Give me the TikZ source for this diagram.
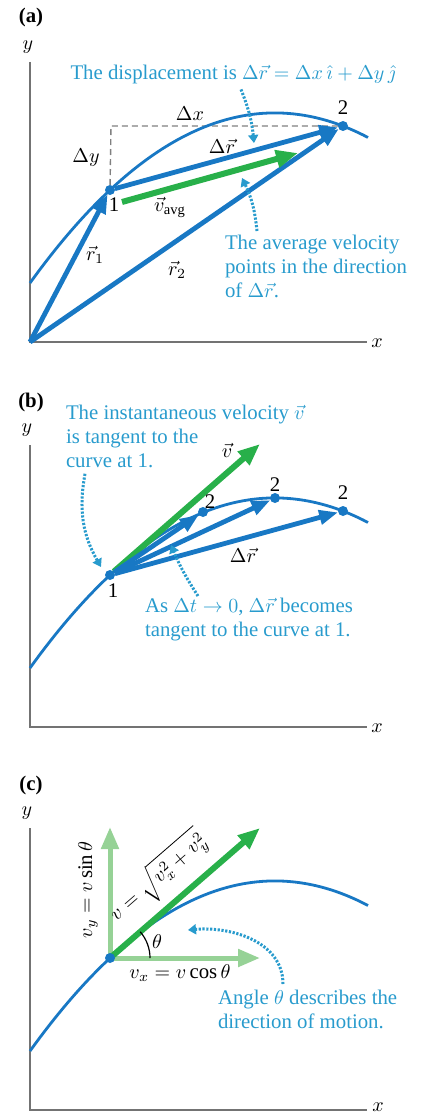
\documentclass[tikz,border=0pt]{standalone}
\usepackage{fontspec}
\setmainfont{Liberation Serif}
\usetikzlibrary{arrows.meta}
\definecolor{trajblue}{RGB}{24,120,196}
\definecolor{notecyan}{RGB}{40,155,205}
\definecolor{velgreen}{RGB}{40,176,74}
\definecolor{compgreen}{RGB}{150,210,150}
\definecolor{axisgray}{RGB}{115,115,115}
\begin{document}
\begin{tikzpicture}[x=0.5pt, y=0.5pt, inner sep=0pt, outer sep=0pt,
		every node/.append style={font=\fontsize{10.4}{12}\selectfont},
		axisline/.style={draw=axisgray, line width=0.8pt},
		traj/.style={draw=trajblue, line width=1.4pt},
		trajdot/.style={circle, fill=trajblue, minimum size=5pt},
		vecblue/.style={draw=trajblue, line width=2.4pt, -{Triangle[length=9.5pt, width=7pt]}},
		vecgreen/.style={draw=velgreen, line width=3pt, -{Triangle[length=11pt, width=8.5pt]}},
		compvec/.style={draw=compgreen, line width=2.5pt, -{Triangle[length=11pt, width=8.5pt]}},
		notetext/.style={text=notecyan, align=left},
		pointer/.style={draw=notecyan, line width=1.5pt, dash pattern=on 1.1pt off 0.8pt, -{Triangle[length=4pt, width=5pt]}},
		dashline/.style={draw=gray, line width=0.7pt, dash pattern=on 3pt off 2pt}]
			\useasboundingbox (0,0) rectangle (423,-1113);
			% (a) average velocity
			\node (labA) at (31,-18) {\bfseries (a)};
			\node (yA) at (28,-47) {$y$};
			\node (xA) at (377,-343) {$x$};
			\coordinate (oA) at (30,-342);
			\coordinate (yTopA) at (30,-62);
			\coordinate (xEndA) at (367,-342);
			\path[axisline] (yTopA) -- (oA) -- (xEndA);
			\node[trajdot] (p1A) at (110,-190) {};
			\node[trajdot] (p2A) at (343,-126) {};
			\coordinate (cornerA) at (111,-126);
			\path[dashline] (p1A) -- (cornerA) -- (p2A);
			\path[traj] (30,-283) .. controls (142.7,-126.5) and (255.3,-78) .. (368,-137.5);
			\path[vecblue] (oA) -- (p1A);
			\path[vecblue] (oA) -- (p2A);
			\path[vecblue] (p1A) -- (p2A);
			\coordinate (vavgA0) at (122,-202);
			\coordinate (vavgA1) at (298,-153);
			\path[vecgreen] (vavgA0) -- (vavgA1);
			\node (oneA) at (114,-205) {1};
			\node (twoA) at (343,-108) {2};
			\node (dxA) at (190,-114) {$\Delta x$};
			\node (dyA) at (86,-158) {$\Delta y$};
			\node (drA) at (222,-146) {$\Delta\vec{r}$};
			\node (vavgA) at (170,-207) {$\vec{v}_{\mathrm{avg}}$};
			\node (r1A) at (95,-255) {$\vec{r}_1$};
			\node (r2A) at (177,-270) {$\vec{r}_2$};
			\node[notetext] (dispA) at (233,-74) {The displacement is $\Delta\vec{r} = \Delta x\,\hat{\imath} + \Delta y\,\hat{\jmath}$};
			\node[notetext, anchor=north west] (avgA) at (225,-235) {The average velocity\\points in the direction\\of $\Delta\vec{r}$.};
			\coordinate (ptrA1) at (254,-143);
			\coordinate (ptrA2) at (242,-178);
			\path[pointer] ([xshift=4pt, yshift=-3pt]dispA.south) to[bend left=8] (ptrA1);
			\path[pointer] ([xshift=16pt, yshift=2pt]avgA.north west) to[bend right=10] (ptrA2);
			% (b) instantaneous velocity
			\node (labB) at (31,-402) {\bfseries (b)};
			\node (yB) at (27,-430) {$y$};
			\node (xB) at (377,-728) {$x$};
			\coordinate (oB) at (30,-727);
			\coordinate (yTopB) at (30,-445);
			\coordinate (xEndB) at (367,-727);
			\path[axisline] (yTopB) -- (oB) -- (xEndB);
			\node[trajdot] (p1B) at (110,-575) {};
			\node[trajdot] (p2aB) at (203,-512) {};
			\node[trajdot] (p2bB) at (275,-498) {};
			\node[trajdot] (p2cB) at (343,-511) {};
			\path[traj] (30,-668) .. controls (142.7,-511.5) and (255.3,-463) .. (368,-522.5);
			\coordinate (vtipB) at (260,-444);
			\path[vecgreen] (p1B) -- (vtipB);
			\path[vecblue] (p1B) -- (p2aB);
			\path[vecblue] (p1B) -- (p2bB);
			\path[vecblue] (p1B) -- (p2cB);
			\node (oneB) at (113,-591) {1};
			\node (twoaB) at (210,-502) {2};
			\node (twobB) at (275,-485) {2};
			\node (twocB) at (343,-493) {2};
			\node (vB) at (227,-450) {$\vec{v}$};
			\node (drB) at (243,-555) {$\Delta\vec{r}$};
			\node[notetext, anchor=north west] (instB) at (66,-405) {The instantaneous velocity $\vec{v}$\\is tangent to the\\curve at 1.};
			\node[notetext, anchor=north west] (asB) at (145,-598) {As $\Delta t \rightarrow 0$, $\Delta\vec{r}$ becomes\\tangent to the curve at 1.};
			\coordinate (ptrB1) at (101,-567);
			\coordinate (ptrB2) at (171,-545);
			\path[pointer] ([xshift=9.5pt, yshift=-3pt]instB.south west) to[bend right=20] (ptrB1);
			\path[pointer] ([xshift=26.5pt, yshift=1pt]asB.north west) to[bend left=5] (ptrB2);
			% (c) components of velocity
			\node (labC) at (31,-785) {\bfseries (c)};
			\node (yC) at (27,-813) {$y$};
			\node (xC) at (378,-1107) {$x$};
			\coordinate (oC) at (30,-1110);
			\coordinate (yTopC) at (30,-828);
			\coordinate (xEndC) at (367,-1110);
			\path[axisline] (yTopC) -- (oC) -- (xEndC);
			\coordinate (pC) at (110,-958);
			\coordinate (vyC) at (110,-827);
			\coordinate (vxC) at (260,-958);
			\coordinate (vC) at (260,-828);
			\path[compvec] (pC) -- (vyC);
			\path[compvec] (pC) -- (vxC);
			\path[traj] (30,-1051) .. controls (142.7,-894.5) and (255.3,-846) .. (368,-905.5);
			\path[vecgreen] (pC) -- (vC) node[sloped, above=5pt, pos=0.45] (vmagC) {$v = \sqrt{v_x^2 + v_y^2}$};
			\node[trajdot] (dotC) at (pC) {};
			\path[draw=black, line width=0.6pt] ([xshift=20pt]pC) arc[start angle=0, end angle=41, radius=20pt];
			\node (thetaC) at (157,-942) {$\theta$};
			\node[rotate=90] (vyLabC) at (88,-890) {$v_y = v\sin\theta$};
			\node (vxLabC) at (180,-973) {$v_x = v\cos\theta$};
			\node[notetext, anchor=north west] (angC) at (218,-990) {Angle $\theta$ describes the\\direction of motion.};
			\coordinate (ptrC) at (188,-930);
			\path[pointer] ([xshift=32.5pt, yshift=3pt]angC.north west) to[out=90, in=5] (ptrC);
\end{tikzpicture}
\end{document}
